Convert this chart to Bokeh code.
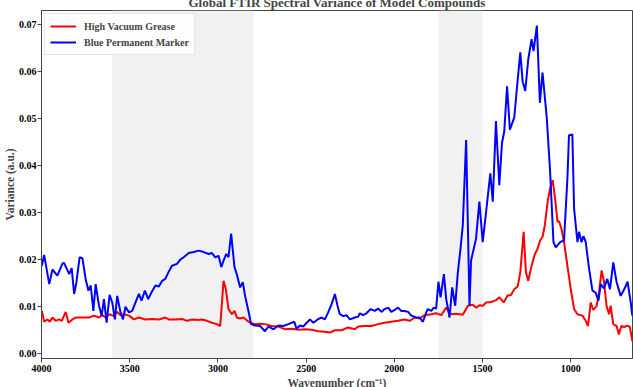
from bokeh.plotting import figure
from bokeh.models import Range1d, BoxAnnotation, Legend, LegendItem
from bokeh.embed import file_html
from bokeh.resources import INLINE

title_text = "Global FTIR Spectral Variance of Model Compounds"
series_names = ["High Vacuum Grease", "Blue Permanent Marker"]
x_label = "Wavenumber (cm\u207b\u00b9)"
y_label = "Variance (a.u.)"
shaded_regions = [(3600, 2800), (1750, 1500)]
x_ticks = [4000, 3500, 3000, 2500, 2000, 1500, 1000]
y_ticks = [0.00, 0.01, 0.02, 0.03, 0.04, 0.05, 0.06, 0.07]

red_wn = [3998, 3985, 3966, 3953, 3938, 3919, 3900, 3885, 3872, 3863, 3847, 3825, 3806, 3768, 3730,
          3702, 3674, 3655, 3637, 3614, 3589, 3571, 3552, 3533, 3504, 3476, 3448, 3411, 3373, 3335,
          3298, 3278, 3241, 3203, 3175, 3147, 3109, 3091, 3062, 3034, 3006, 2987, 2968, 2955, 2940,
          2921, 2906, 2893, 2874, 2855, 2836, 2817, 2789, 2761, 2733, 2695, 2657, 2619, 2582, 2544,
          2507, 2469, 2431, 2394, 2365, 2337, 2299, 2262, 2224, 2205, 2168, 2130, 2092, 2055, 2017,
          1979, 1942, 1913, 1885, 1857, 1829, 1791, 1763, 1734, 1706, 1678, 1650, 1612, 1583, 1555,
          1536, 1517, 1498, 1480, 1451, 1423, 1405, 1380, 1358, 1339, 1320, 1301, 1286, 1267, 1254,
          1241, 1222, 1203, 1188, 1173, 1160, 1147, 1131, 1117, 1102, 1089, 1075, 1067, 1053, 1038,
          1019, 1000, 981, 962, 934, 915, 902, 887, 872, 853, 840, 825, 812, 797, 783,
          774, 759, 740, 727, 714, 695, 680, 665, 651]
red_var = [0.0091, 0.0068, 0.0073, 0.0068, 0.0077, 0.0070, 0.0073, 0.0070, 0.0081, 0.0089, 0.0066, 0.0073, 0.0077, 0.0077, 0.0077,
           0.0081, 0.0077, 0.0082, 0.0077, 0.0084, 0.0080, 0.0089, 0.0082, 0.0084, 0.0081, 0.0073, 0.0077, 0.0073, 0.0074, 0.0073,
           0.0077, 0.0073, 0.0073, 0.0074, 0.0070, 0.0073, 0.0072, 0.0073, 0.0070, 0.0066, 0.0063, 0.0059, 0.0155, 0.0137, 0.0095,
           0.0084, 0.0091, 0.0077, 0.0075, 0.0077, 0.0071, 0.0066, 0.0063, 0.0064, 0.0063, 0.0059, 0.0058, 0.0052, 0.0053, 0.0051,
           0.0052, 0.0051, 0.0048, 0.0047, 0.0045, 0.0050, 0.0050, 0.0056, 0.0052, 0.0058, 0.0059, 0.0059, 0.0063, 0.0066, 0.0068,
           0.0070, 0.0073, 0.0070, 0.0077, 0.0075, 0.0082, 0.0084, 0.0086, 0.0082, 0.0098, 0.0084, 0.0085, 0.0083, 0.0102, 0.0104,
           0.0098, 0.0103, 0.0102, 0.0109, 0.0110, 0.0114, 0.0120, 0.0109, 0.0124, 0.0125, 0.0137, 0.0143, 0.0173, 0.0259, 0.0173,
           0.0155, 0.0187, 0.0212, 0.0223, 0.0241, 0.0248, 0.0273, 0.0323, 0.0351, 0.0369, 0.0330, 0.0280, 0.0282, 0.0266, 0.0237,
           0.0187, 0.0137, 0.0095, 0.0084, 0.0081, 0.0070, 0.0059, 0.0109, 0.0093, 0.0102, 0.0130, 0.0177, 0.0155, 0.0102, 0.0084,
           0.0102, 0.0063, 0.0059, 0.0041, 0.0059, 0.0057, 0.0060, 0.0057, 0.0027]

blue_wn = [3998, 3985, 3956, 3938, 3910, 3881, 3872, 3843, 3829, 3815, 3802, 3784, 3768, 3750, 3734,
           3721, 3706, 3693, 3674, 3659, 3646, 3631, 3614, 3599, 3584, 3571, 3552, 3538, 3524, 3504,
           3486, 3467, 3448, 3433, 3414, 3395, 3377, 3354, 3335, 3316, 3298, 3278, 3260, 3232, 3213,
           3194, 3166, 3137, 3109, 3081, 3052, 3034, 3015, 2996, 2981, 2968, 2953, 2940, 2925, 2906,
           2893, 2874, 2859, 2846, 2827, 2812, 2789, 2761, 2733, 2714, 2685, 2657, 2629, 2601, 2567,
           2554, 2535, 2516, 2497, 2478, 2459, 2435, 2412, 2394, 2375, 2356, 2337, 2322, 2309, 2290,
           2271, 2252, 2224, 2205, 2196, 2177, 2158, 2134, 2111, 2092, 2073, 2055, 2035, 2017, 1998,
           1979, 1960, 1942, 1922, 1904, 1876, 1857, 1838, 1819, 1810, 1791, 1776, 1763, 1750, 1738,
           1719, 1706, 1687, 1672, 1655, 1640, 1625, 1612, 1593, 1574, 1565, 1537, 1518, 1499, 1480,
           1456, 1442, 1424, 1405, 1390, 1377, 1361, 1345, 1320, 1305, 1286, 1273, 1258, 1241, 1222,
           1211, 1192, 1175, 1160, 1136, 1117, 1098, 1085, 1060, 1038, 1019, 1010, 991, 981, 962,
           953, 939, 928, 915, 896, 877, 859, 843, 830, 812, 793, 778, 759, 740, 717,
           694, 678, 660, 651]
blue_var = [0.0187, 0.0210, 0.0148, 0.0179, 0.0166, 0.0192, 0.0193, 0.0169, 0.0182, 0.0127, 0.0152, 0.0205, 0.0203, 0.0159, 0.0134,
            0.0145, 0.0091, 0.0148, 0.0102, 0.0081, 0.0116, 0.0066, 0.0125, 0.0109, 0.0073, 0.0123, 0.0088, 0.0073, 0.0100, 0.0088,
            0.0091, 0.0109, 0.0127, 0.0113, 0.0134, 0.0116, 0.0130, 0.0145, 0.0143, 0.0155, 0.0159, 0.0175, 0.0187, 0.0191, 0.0200,
            0.0205, 0.0214, 0.0216, 0.0219, 0.0216, 0.0212, 0.0214, 0.0205, 0.0208, 0.0184, 0.0198, 0.0212, 0.0205, 0.0255, 0.0184,
            0.0169, 0.0141, 0.0152, 0.0123, 0.0091, 0.0063, 0.0060, 0.0059, 0.0048, 0.0058, 0.0052, 0.0060, 0.0059, 0.0063, 0.0068,
            0.0053, 0.0060, 0.0058, 0.0066, 0.0073, 0.0066, 0.0073, 0.0077, 0.0073, 0.0088, 0.0105, 0.0127, 0.0102, 0.0084, 0.0080,
            0.0082, 0.0073, 0.0077, 0.0079, 0.0086, 0.0082, 0.0086, 0.0095, 0.0091, 0.0096, 0.0089, 0.0095, 0.0098, 0.0089, 0.0093,
            0.0098, 0.0091, 0.0091, 0.0089, 0.0081, 0.0077, 0.0077, 0.0068, 0.0088, 0.0095, 0.0091, 0.0098, 0.0096, 0.0153, 0.0120,
            0.0169, 0.0116, 0.0077, 0.0141, 0.0102, 0.0173, 0.0223, 0.0273, 0.0454, 0.0102, 0.0198, 0.0244, 0.0323, 0.0237, 0.0301,
            0.0383, 0.0323, 0.0494, 0.0358, 0.0447, 0.0472, 0.0568, 0.0476, 0.0502, 0.0565, 0.0640, 0.0579, 0.0558, 0.0625, 0.0668,
            0.0643, 0.0697, 0.0533, 0.0597, 0.0501, 0.0387, 0.0237, 0.0226, 0.0237, 0.0241, 0.0372, 0.0464, 0.0466, 0.0308, 0.0237,
            0.0259, 0.0237, 0.0250, 0.0237, 0.0180, 0.0134, 0.0130, 0.0113, 0.0148, 0.0139, 0.0159, 0.0137, 0.0194, 0.0152, 0.0123,
            0.0139, 0.0153, 0.0109, 0.0081]

FONT = "Liberation Serif"

p = figure(width=633, height=400, output_backend="svg", toolbar_location=None,
           x_range=Range1d(4000, 650), y_range=Range1d(-0.0010, 0.0729),
           min_border_left=5, min_border_right=1, min_border_top=0, min_border_bottom=5,
           background_fill_color="white", border_fill_color="white")
p.styles = {"margin-top": "-9px"}

p.title.text = title_text
p.title.text_font = FONT
p.title.text_font_size = "13px"
p.title.text_font_style = "bold"
p.title.align = "center"
p.title.standoff = 2

p.grid.visible = False
p.outline_line_color = "#444444"
p.outline_line_width = 1

for (a, b) in shaded_regions:
    p.add_layout(BoxAnnotation(left=b, right=a, fill_color="#eeeeee", fill_alpha=0.8,
                               line_color=None, level="underlay"))

r_red = p.line(red_wn, red_var, line_color="#ff0000", line_width=2)
r_blue = p.line(blue_wn, blue_var, line_color="#0000ff", line_width=2)

for ax in (p.xaxis[0], p.yaxis[0]):
    ax.major_label_text_font = FONT
    ax.major_label_text_font_style = "bold"
    ax.major_label_text_font_size = "10px"
    ax.axis_label_text_font = FONT
    ax.axis_label_text_font_style = "bold"
    ax.axis_label_text_font_size = "11.5px"
    ax.major_tick_in = 0
    ax.major_tick_out = 4
    ax.minor_tick_in = 0
    ax.minor_tick_out = 0
    ax.axis_line_color = "#444444"
    ax.major_tick_line_color = "#444444"
    ax.major_label_text_color = "black"

p.xaxis[0].major_label_standoff = 2
p.yaxis[0].major_label_standoff = 1
p.xaxis[0].ticker = x_ticks
p.yaxis[0].ticker = y_ticks
p.xaxis[0].major_label_overrides = {t: str(t) for t in x_ticks}
p.yaxis[0].major_label_overrides = {t: f"{t:.2f}" for t in y_ticks}
p.xaxis[0].axis_label = x_label
p.yaxis[0].axis_label = y_label
p.xaxis[0].axis_label_standoff = 2
p.yaxis[0].axis_label_standoff = 0

legend = Legend(items=[LegendItem(label=series_names[0], renderers=[r_red]),
                       LegendItem(label=series_names[1], renderers=[r_blue])],
                location="top_left")
legend.label_text_font = FONT
legend.label_text_font_style = "bold"
legend.label_text_font_size = "10px"
legend.border_line_color = "#cccccc"
legend.border_line_width = 1
legend.background_fill_alpha = 0.9
legend.margin = 3
legend.padding = 5
legend.spacing = 2
legend.glyph_width = 26
legend.glyph_height = 14
legend.label_height = 14
legend.label_standoff = 8
p.add_layout(legend)

open("out.html", "w").write(file_html(p, INLINE))
